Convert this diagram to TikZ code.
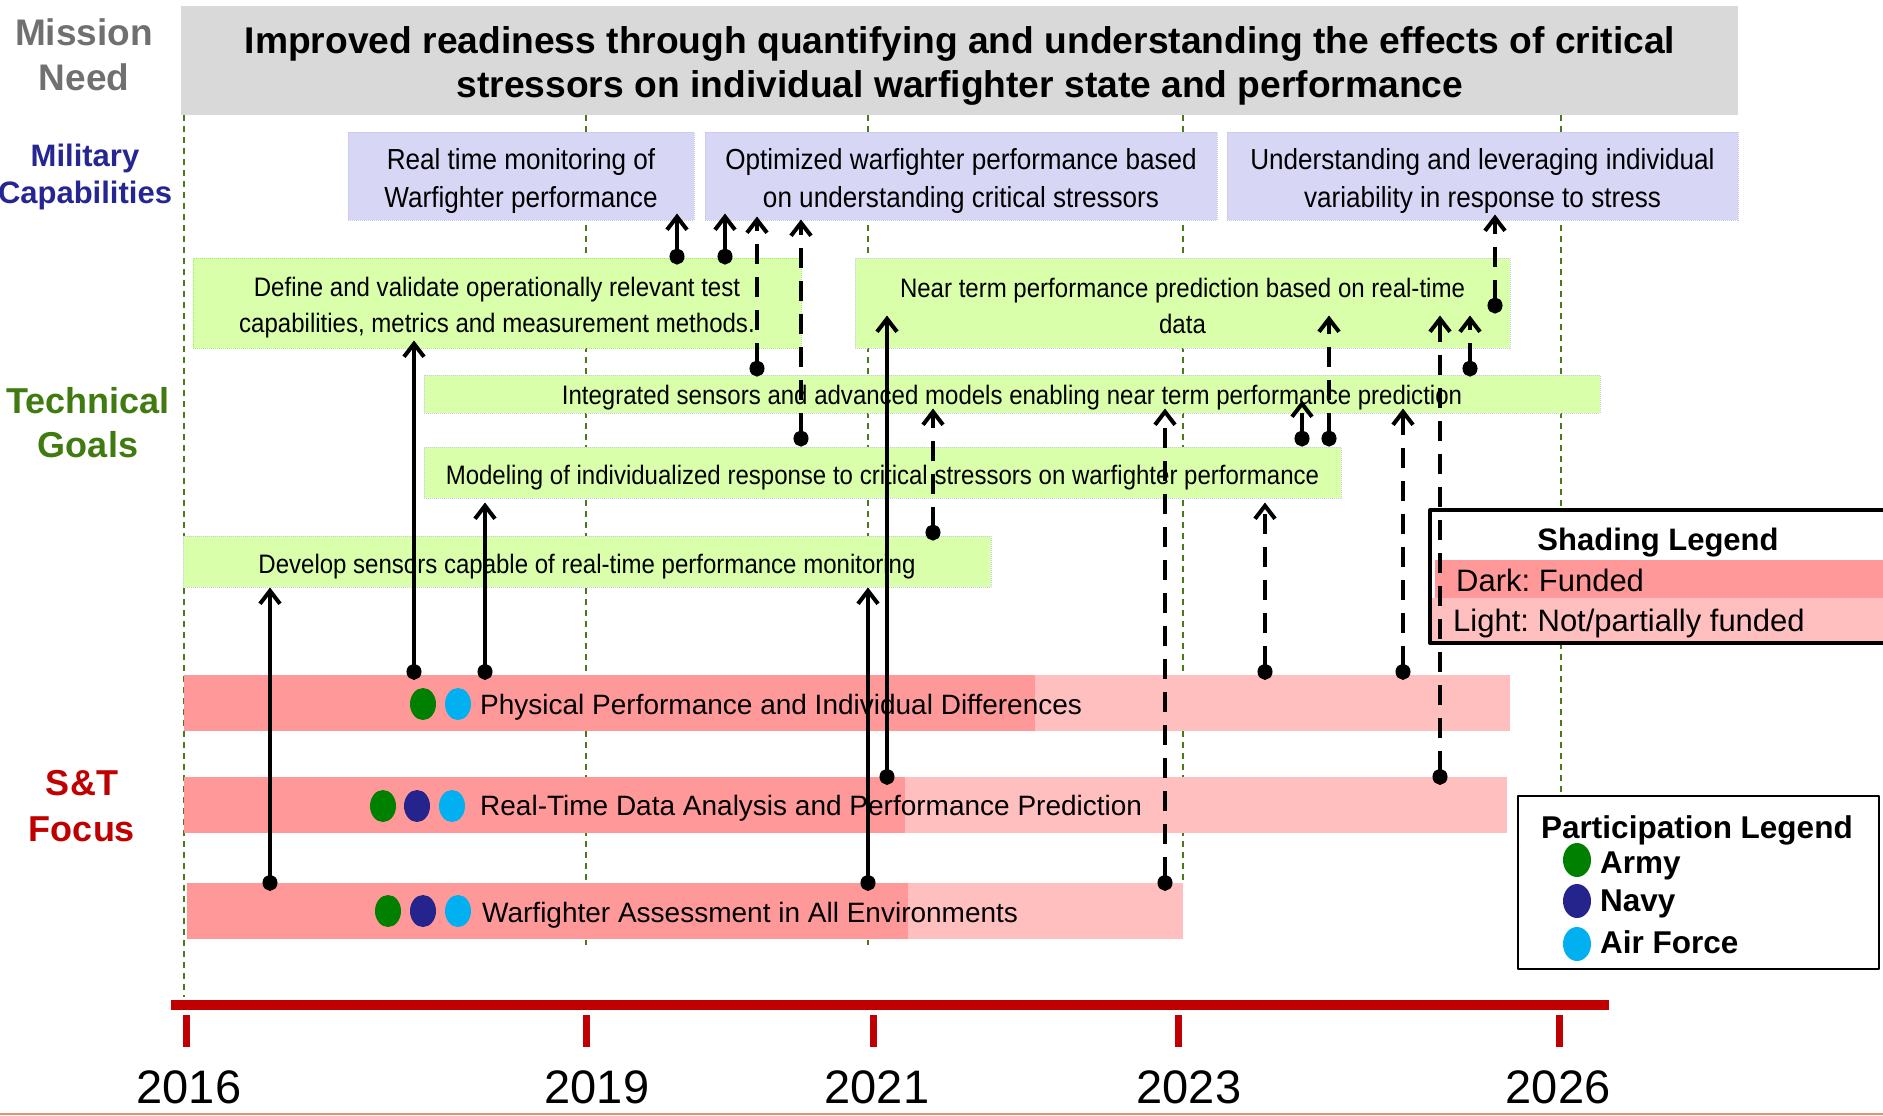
\documentclass[tikz,border=0pt]{standalone}
\usepackage{fontspec}
\setmainfont{Liberation Sans}
\newfontfamily\narrowfont[FakeStretch=0.9]{Liberation Sans}
\usetikzlibrary{arrows.meta,calc}
\frenchspacing
% Colours
\definecolor{titlegray}{HTML}{D9D9D9}
\definecolor{needgray}{HTML}{707070}
\definecolor{milblue}{HTML}{262693}
\definecolor{techgreen}{HTML}{3F7B0E}
\definecolor{stred}{HTML}{C00000}
\definecolor{capfill}{HTML}{D7D7F5}
\definecolor{capedge}{HTML}{C3C3EC}
\definecolor{goalfill}{HTML}{D9FFAA}
\definecolor{goaledge}{HTML}{C8CCEE}
\definecolor{definegreen}{HTML}{9AF05A}
\definecolor{funded}{HTML}{FF9999}
\definecolor{partial}{HTML}{FFBFBF}
\definecolor{army}{HTML}{008000}
\definecolor{navy}{HTML}{24248C}
\definecolor{airforce}{HTML}{00B0F0}
\definecolor{gridgreen}{HTML}{4A7A1C}
\definecolor{bottomline}{HTML}{F08C6C}
\begin{document}
\begin{tikzpicture}[x=1pt, y=-1pt, line join=round,
  rowlabel/.style={align=center, inner sep=0pt, font=\bfseries\fontsize{36}{45}\selectfont},
  titletext/.style={align=center, inner sep=0pt, font=\bfseries\fontsize{37.2}{44}\selectfont},
  capbox/.style={fill=capfill, draw=capedge, densely dotted, line width=1pt, inner sep=0pt, minimum height=88pt},
  captext/.style={align=center, inner sep=0pt, font=\fontsize{29}{38}\selectfont\narrowfont},
  goalbox/.style={fill=goalfill, draw=goaledge, densely dotted, line width=1pt, inner sep=0pt},
  goaltext/.style={align=center, inner sep=0pt, font=\fontsize{26.7}{36}\selectfont\narrowfont},
  lightbar/.style={fill=partial, inner sep=0pt, minimum height=56pt},
  bartext/.style={anchor=west, inner sep=0pt, font=\fontsize{28}{34}\selectfont},
  legtitle/.style={inner sep=0pt, font=\bfseries\fontsize{31}{36}\selectfont},
  legtext/.style={anchor=west, inner sep=0pt, font=\fontsize{31}{36}\selectfont},
  partitem/.style={anchor=west, inner sep=0pt, font=\bfseries\fontsize{31.5}{36}\selectfont},
  yearlbl/.style={inner sep=0pt, font=\fontsize{47}{54}\selectfont},
  gridline/.style={draw=gridgreen, line width=1.6pt, dash pattern=on 6pt off 5pt},
  solidlink/.style={line width=4pt, arrows={Circle[length=16pt,width=15pt]-Straight Barb[length=13pt,width=20pt]}},
  dashlink/.style={solidlink, dash pattern=on 20pt off 13pt}]
\useasboundingbox (0,0) rectangle (1883,1116);
% Year grid
\foreach \gx/\gend in {184/997, 586/945, 868/945, 1183/883, 1561/796}
  \draw[gridline] (\gx,115) -- (\gx,\gend);
% Mission need
\node[fill=titlegray, inner sep=0pt, minimum width=1557pt, minimum height=109pt] (need) at (959.5,60.5) {};
\node[titletext] (needtxt) at (960,65.5)
  {Improved readiness through quantifying and understanding the effects of critical\\stressors on individual warfighter state and performance};
% Row labels
\node[rowlabel, text=needgray, font=\bfseries\fontsize{37}{45}\selectfont] (needlbl) at (84,55) {Mission\\Need};
\node[rowlabel, text=milblue, font=\bfseries\fontsize{31}{37}\selectfont] (millbl) at (85,176.5) {Military\\Capabilities};
\node[rowlabel, text=techgreen, font=\bfseries\fontsize{36}{44}\selectfont] (techlbl) at (88,422.5) {Technical\\Goals};
\node[rowlabel, text=stred, font=\bfseries\fontsize{36}{46}\selectfont] (stlbl) at (82,806) {S\&T\\Focus};
% Military capabilities
\node[capbox, minimum width=346pt] (cap1) at (521,176) {};
\node[capbox, minimum width=512pt] (cap2) at (961,176) {};
\node[capbox, minimum width=511pt] (cap3) at (1482.5,176) {};
\node[captext] (cap1txt) at ([yshift=-5pt]cap1.center) {Real time monitoring of\\Warfighter performance};
\node[captext] (cap2txt) at ([yshift=-5pt]cap2.center) {Optimized warfighter performance based\\on understanding critical stressors};
\node[captext] (cap3txt) at ([yshift=-5pt]cap3.center) {Understanding and leveraging individual\\variability in response to stress};
% Technical goals
\node[goalbox, draw=definegreen, minimum width=608pt, minimum height=90pt] (define) at (497,303) {};
\node[goalbox, minimum width=655pt, minimum height=90pt] (nearterm) at (1182.5,303) {};
\node[goalbox, minimum width=1176pt, minimum height=38pt] (integrated) at (1012,394) {};
\node[goalbox, minimum width=917pt, minimum height=51pt] (modeling) at (882.5,472.5) {};
\node[goalbox, minimum width=808pt, minimum height=51pt] (sensors) at (587,561.5) {};
\node[goaltext] (definetxt) at ([yshift=-5pt]define.center) {Define and validate operationally relevant test\\capabilities, metrics and measurement methods.};
\node[goaltext] (neartermtxt) at ([yshift=-3pt]nearterm.center) {Near term performance prediction based on real-time\\data};
\node[goaltext] (integratedtxt) at ([yshift=-3.5pt]integrated.center) {Integrated sensors and advanced models enabling near term performance prediction};
\node[goaltext] (modelingtxt) at ([yshift=-5pt]modeling.center) {Modeling of individualized response to critical stressors on warfighter performance};
\node[goaltext] (sensorstxt) at ([yshift=-5pt]sensors.center) {Develop sensors capable of real-time performance monitoring};
% S&T focus bars (dark part funded)
\node[lightbar, minimum width=1326pt] (phys) at (847,703) {};
\fill[funded] (phys.north west) rectangle (phys.south west -| 1035,0);
\node[lightbar, minimum width=1323pt] (rtd) at (845.5,805) {};
\fill[funded] (rtd.north west) rectangle (rtd.south west -| 905,0);
\node[lightbar, minimum width=996pt] (wfa) at (685,911) {};
\fill[funded] (wfa.north west) rectangle (wfa.south west -| 908,0);
% Participation dots and bar labels
\foreach \cx/\col in {423/army, 458/airforce}
  \fill[\col] (\cx,704) ellipse (13pt and 16pt);
\foreach \cx/\col in {383/army, 417/navy, 452/airforce}
  \fill[\col] (\cx,806) ellipse (13pt and 16pt);
\foreach \cx/\col in {388/army, 423/navy, 458/airforce}
  \fill[\col] (\cx,911) ellipse (13pt and 16pt);
\node[bartext] (physlbl) at (480,707) {Physical Performance and Individual Differences};
\node[bartext] (rtdlbl) at (480,808) {Real-Time Data Analysis and Performance Prediction};
\node[bartext] (wfalbl) at (482,915) {Warfighter Assessment in All Environments};
% Shading legend
\node[draw, fill=white, line width=4pt, inner sep=0pt, minimum width=470pt, minimum height=133pt] (shading) at (1665,576.5) {};
\fill[funded] (1435,560) rectangle (1900,598);
\fill[partial] (1432,598) rectangle (1900,641);
\node[legtitle] (shadetitle) at (1658,543) {Shading Legend};
\node[legtext] (darklbl) at (1456,580) {Dark: Funded};
\node[legtext] (lightlbl) at (1453,623.5) {Light: Not/partially funded};
% Participation legend
\node[draw, fill=white, line width=2.5pt, inner sep=0pt, minimum width=361pt, minimum height=173pt] (particip) at (1698.5,882.5) {};
\node[partitem] (parttitle) at (1541,830) {Participation Legend};
\foreach \cy/\ty/\col/\svc [count=\i] in {860/866/army/Army, 901/904/navy/Navy, 944/942/airforce/Air Force} {
  \fill[\col] (1577,\cy) ellipse (14pt and 17pt);
  \node[partitem] (svc\i) at (1600,\ty) {\svc};
}
% Timeline
\draw[stred, line width=10pt] (171,1005) -- (1609,1005);
\foreach \tx/\lx/\yr in {186/189/2016, 586/597/2019, 873/877/2021, 1178/1189/2023, 1559/1558/2026} {
  \draw[stred, line width=7pt] (\tx,1015) -- (\tx,1047);
  \node[yearlbl] (y\yr) at (\lx,1087) {\yr};
}
\draw[bottomline, line width=2pt] (0,1114) -- (1883,1114);
% Links: x / from / start offset / to / end offset
\foreach \lx/\src/\sy/\dst/\dy in {270/wfa/8/sensors/0, 414/phys/5/define/-8,
    485/phys/5/modeling/4, 868/wfa/8/sensors/0, 887/rtd/8/nearterm/-33,
    677/define/7/cap1/-7, 725/define/7/cap2/-7}
  \draw[solidlink] ($(\src.north -| \lx,0)+(0,\sy)$) -- ($(\dst.south -| \lx,0)+(0,\dy)$);
\foreach \lx/\src/\sy/\dst/\dy in {757/integrated/2/cap2/-4, 801/modeling/0/cap2/-1,
    933/sensors/5/integrated/-5, 1165/wfa/8/integrated/-5, 1265/phys/5/modeling/4,
    1302/modeling/0/integrated/-13, 1329/modeling/0/nearterm/-33,
    1403/phys/5/integrated/-5, 1440/rtd/8/nearterm/-33,
    1470/integrated/2/nearterm/-33, 1495/nearterm/56/cap3/-6}
  \draw[dashlink] ($(\src.north -| \lx,0)+(0,\sy)$) -- ($(\dst.south -| \lx,0)+(0,\dy)$);
\end{tikzpicture}
\end{document}
